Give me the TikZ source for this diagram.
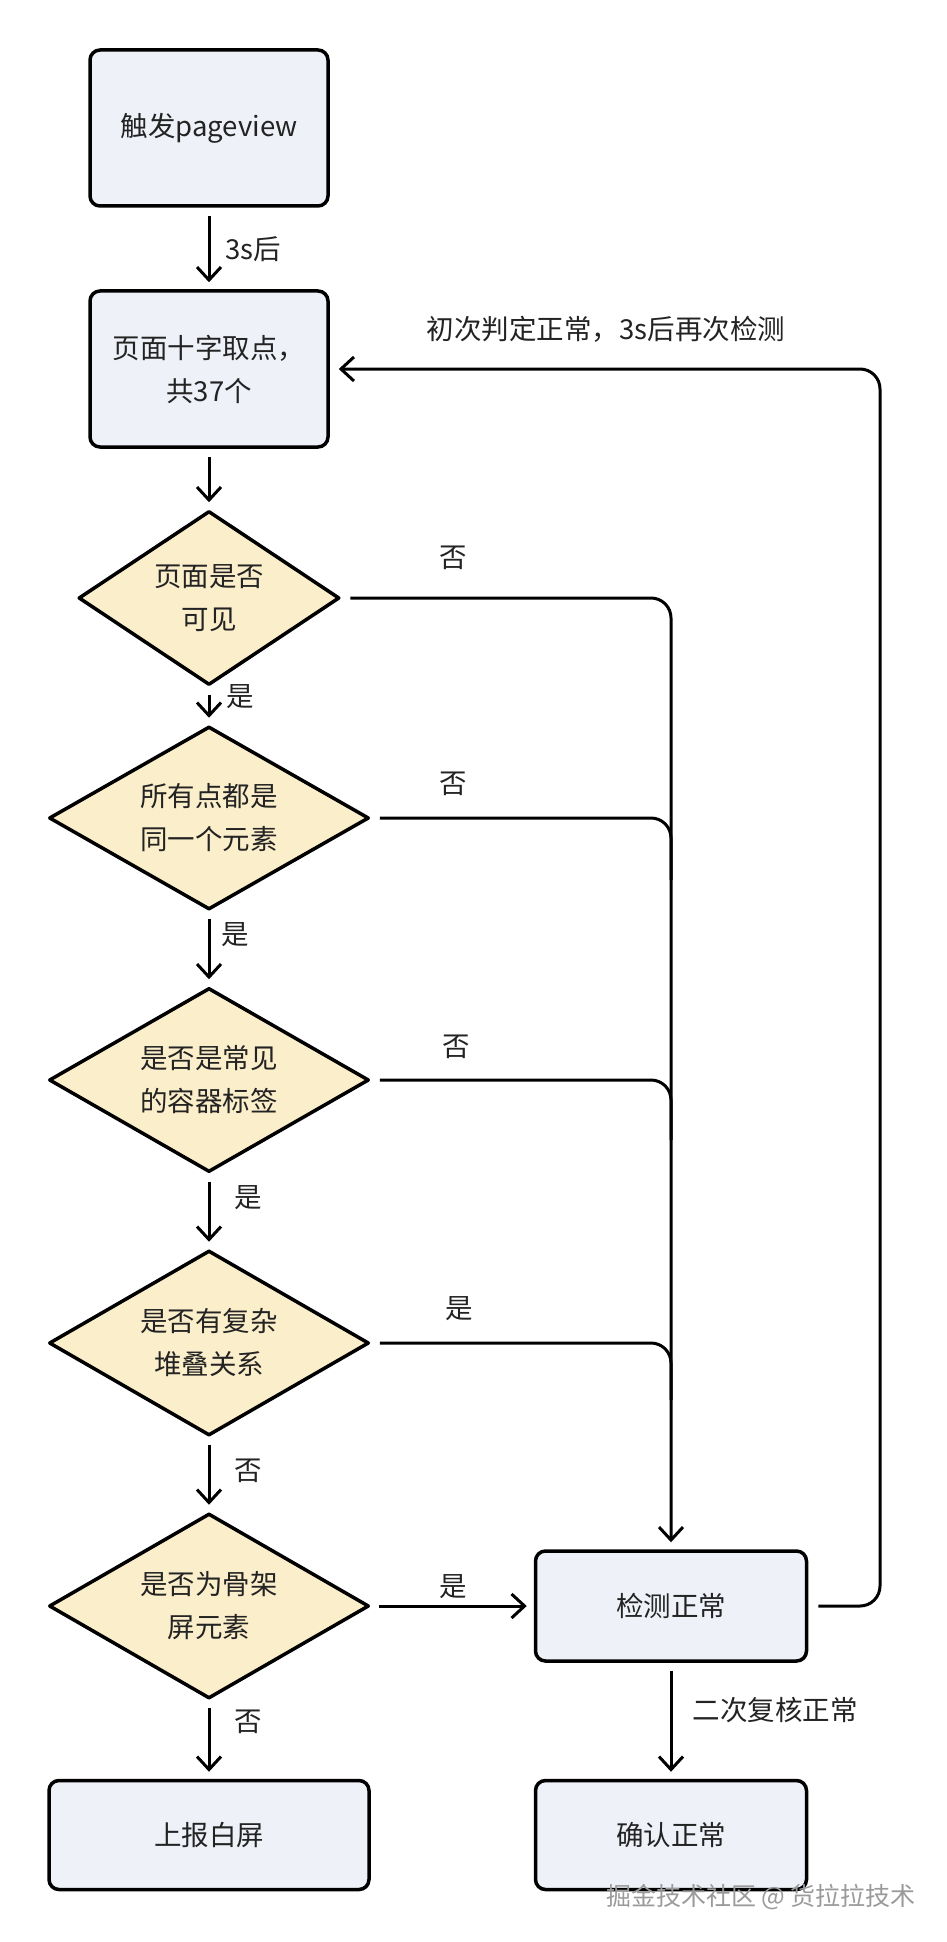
\documentclass[tikz,border=0pt]{standalone}
\usepackage{fontspec}
\setmainfont{Noto Sans CJK SC}
\usetikzlibrary{shapes.geometric,arrows.meta}
\definecolor{boxfill}{HTML}{EEF1F8}
\definecolor{diafill}{HTML}{FBEECB}
\definecolor{txt}{HTML}{232323}
\definecolor{wmgray}{HTML}{9A9A9A}
\begin{document}
\begin{tikzpicture}[x=1pt,y=-1pt,
  font=\fontsize{27.5}{43}\selectfont,
  procbox/.style={draw=black, line width=3.5pt, fill=boxfill, rounded corners=10pt, text=txt, align=center, inner sep=0pt},
  decision/.style={diamond, aspect=1.75, draw=black, line width=3.5pt, line join=round, fill=diafill, inner sep=0pt, align=center, text=txt},
  conn/.style={draw=black, line width=3pt, -{Straight Barb[length=13pt,width=24pt]}, shorten <=8pt, shorten >=7pt, rounded corners=20pt},
  plain/.style={draw=black, line width=3pt, shorten <=9pt, rounded corners=20pt},
  lab/.style={text=txt, inner sep=0pt}]
\fill[white] (0,0) rectangle (946,1942);
\useasboundingbox (0,0) rectangle (946,1942);

\node[procbox, minimum width=238pt, minimum height=156pt] (pv) at (209,128) {触发pageview};
\node[procbox, minimum width=238pt, minimum height=156pt] (pick) at (209,369) {页面十字取点，\\共37个};
\node[decision, aspect=1.5, minimum width=261pt, minimum height=174pt] (d1) at (209,598) {页面是否\\可见};
\node[decision, minimum width=320pt, minimum height=183pt] (d2) at (209,818) {所有点都是\\同一个元素};
\node[decision, minimum width=320pt, minimum height=184pt] (d3) at (209,1080) {是否是常见\\的容器标签};
\node[decision, minimum width=320pt, minimum height=185pt] (d4) at (209,1343) {是否有复杂\\堆叠关系};
\node[decision, minimum width=320pt, minimum height=185pt] (d5) at (209,1606) {是否为骨架\\屏元素};
\node[procbox, minimum width=320pt, minimum height=109pt] (report) at (209,1835) {上报白屏};
\node[procbox, minimum width=271pt, minimum height=110pt] (chk) at (671,1606) {检测正常};
\node[procbox, minimum width=271pt, minimum height=109pt] (ok) at (671,1835) {确认正常};

\coordinate (j2) at (671,880);
\coordinate (j3) at (671,1140);
\coordinate (j4) at (671,1400);
\coordinate (fbb) at (880,1606);
\coordinate (fbt) at (880,369);

% main column
\draw[conn] (pv) -- (pick);
\draw[conn] (pick) -- (d1);
\draw[conn] (d1) -- (d2);
\draw[conn] (d2) -- (d3);
\draw[conn] (d3) -- (d4);
\draw[conn] (d4) -- (d5);
\draw[conn] (d5) -- (report);
\draw[conn] (d5) -- (chk);
\draw[conn] (chk) -- (ok);

% merge line
\draw[conn, shorten <=9pt] (d1.east) -| (chk.north);
\draw[plain] (d2.east) -| (j2);
\draw[plain] (d3.east) -| (j3);
\draw[plain] (d4.east) -| (j4);

% feedback
\draw[conn, shorten <=10pt, shorten >=9pt] (chk.east) -- (fbb) -- (fbt) -- (pick.east);

% labels
\node[lab] (l0) at (253,249) {3s后};
\node[lab] (lfb) at (606,329) {初次判定正常，3s后再次检测};
\node[lab] (l1) at (240,697) {是};
\node[lab] (l2) at (235,935) {是};
\node[lab] (l3) at (248,1198) {是};
\node[lab] (l4) at (248,1471) {否};
\node[lab] (l5) at (248,1722) {否};
\node[lab] (n1) at (453,558) {否};
\node[lab] (n2) at (453,784) {否};
\node[lab] (n3) at (456,1047) {否};
\node[lab] (n4) at (459,1309) {是};
\node[lab] (n5) at (453,1587) {是};
\node[lab] (l6) at (775,1710) {二次复核正常};

\node[text=wmgray, inner sep=0pt, font=\fontsize{25}{25}\selectfont] (wm) at (761,1897) {掘金技术社区 @ 货拉拉技术};
\end{tikzpicture}
\end{document}
